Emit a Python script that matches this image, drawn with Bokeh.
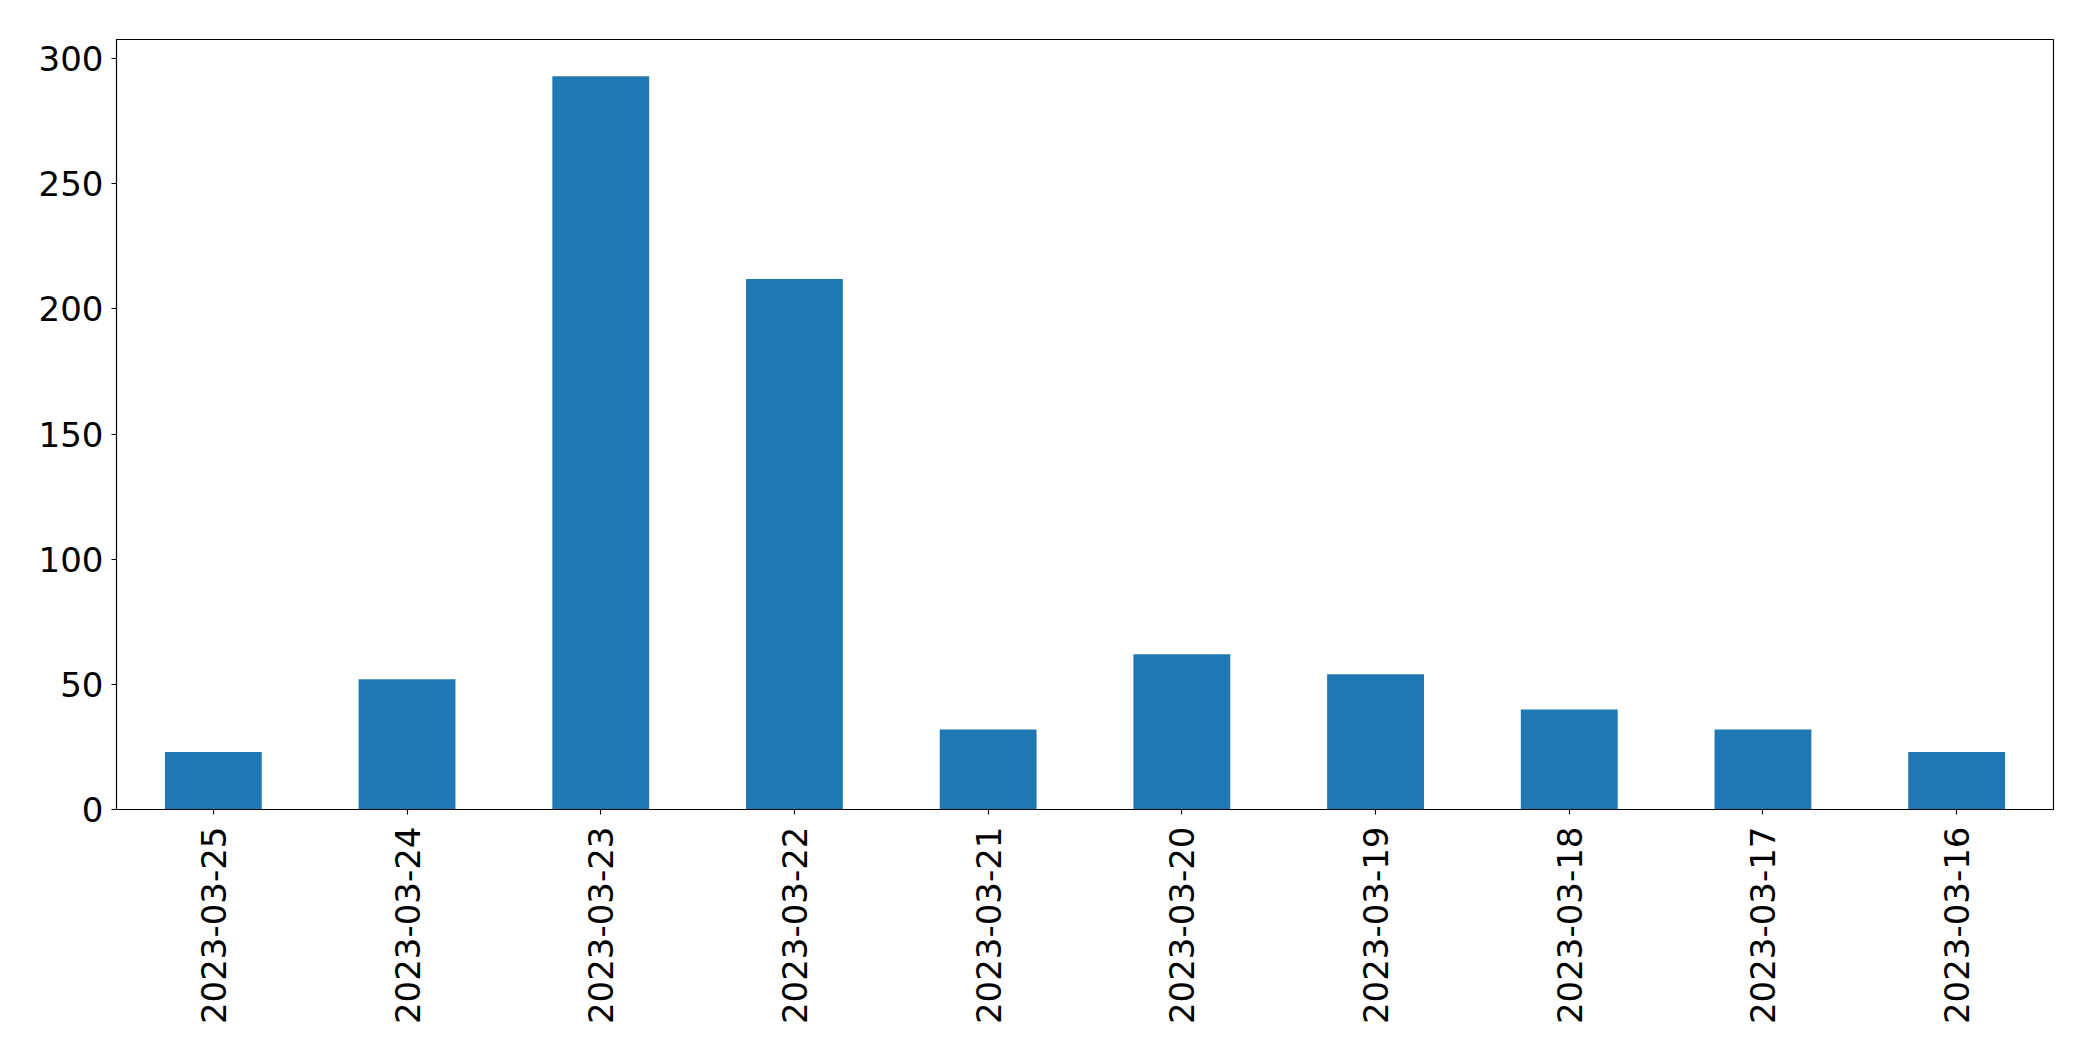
from bokeh.plotting import figure
from bokeh.models import Range1d, FactorRange, FixedTicker, ColumnDataSource
from bokeh.embed import file_html
from bokeh.resources import INLINE
import math

dates = ["2023-03-25", "2023-03-24", "2023-03-23", "2023-03-22", "2023-03-21",
         "2023-03-20", "2023-03-19", "2023-03-18", "2023-03-17", "2023-03-16"]
counts = [23, 52, 293, 212, 32, 62, 54, 40, 32, 23]
y_ticks = [0, 50, 100, 150, 200, 250, 300]

source = ColumnDataSource(data=dict(date=dates, count=counts))

p = figure(
    width=2077, height=1045,
    x_range=FactorRange(factors=dates, range_padding=0),
    y_range=Range1d(0, max(counts) * 1.05),
    output_backend="svg", toolbar_location=None,
    min_border_left=116, min_border_right=24, min_border_top=39, min_border_bottom=236,
)

p.vbar(x="date", top="count", width=0.5, source=source, color="#1f77b4", line_color=None)

p.xgrid.visible = False
p.ygrid.visible = False
p.outline_line_color = "black"
p.outline_line_width = 1.1
p.background_fill_color = "white"
p.border_fill_color = "white"

for ax in (p.xaxis[0], p.yaxis[0]):
    ax.axis_line_color = "black"
    ax.axis_line_width = 1.1
    ax.major_tick_line_color = "black"
    ax.major_tick_line_width = 1.1
    ax.major_tick_in = 0
    ax.major_tick_out = 5
    ax.minor_tick_line_color = None
    ax.major_label_text_font = "DejaVu Sans"
    ax.major_label_text_font_size = "34px"
    ax.major_label_text_color = "black"

p.yaxis.ticker = FixedTicker(ticks=y_ticks)
p.yaxis.major_label_standoff = 8
p.xaxis.major_label_orientation = math.pi / 2
p.xaxis.major_label_standoff = 12

open("out.html", "w").write(file_html(p, INLINE))
